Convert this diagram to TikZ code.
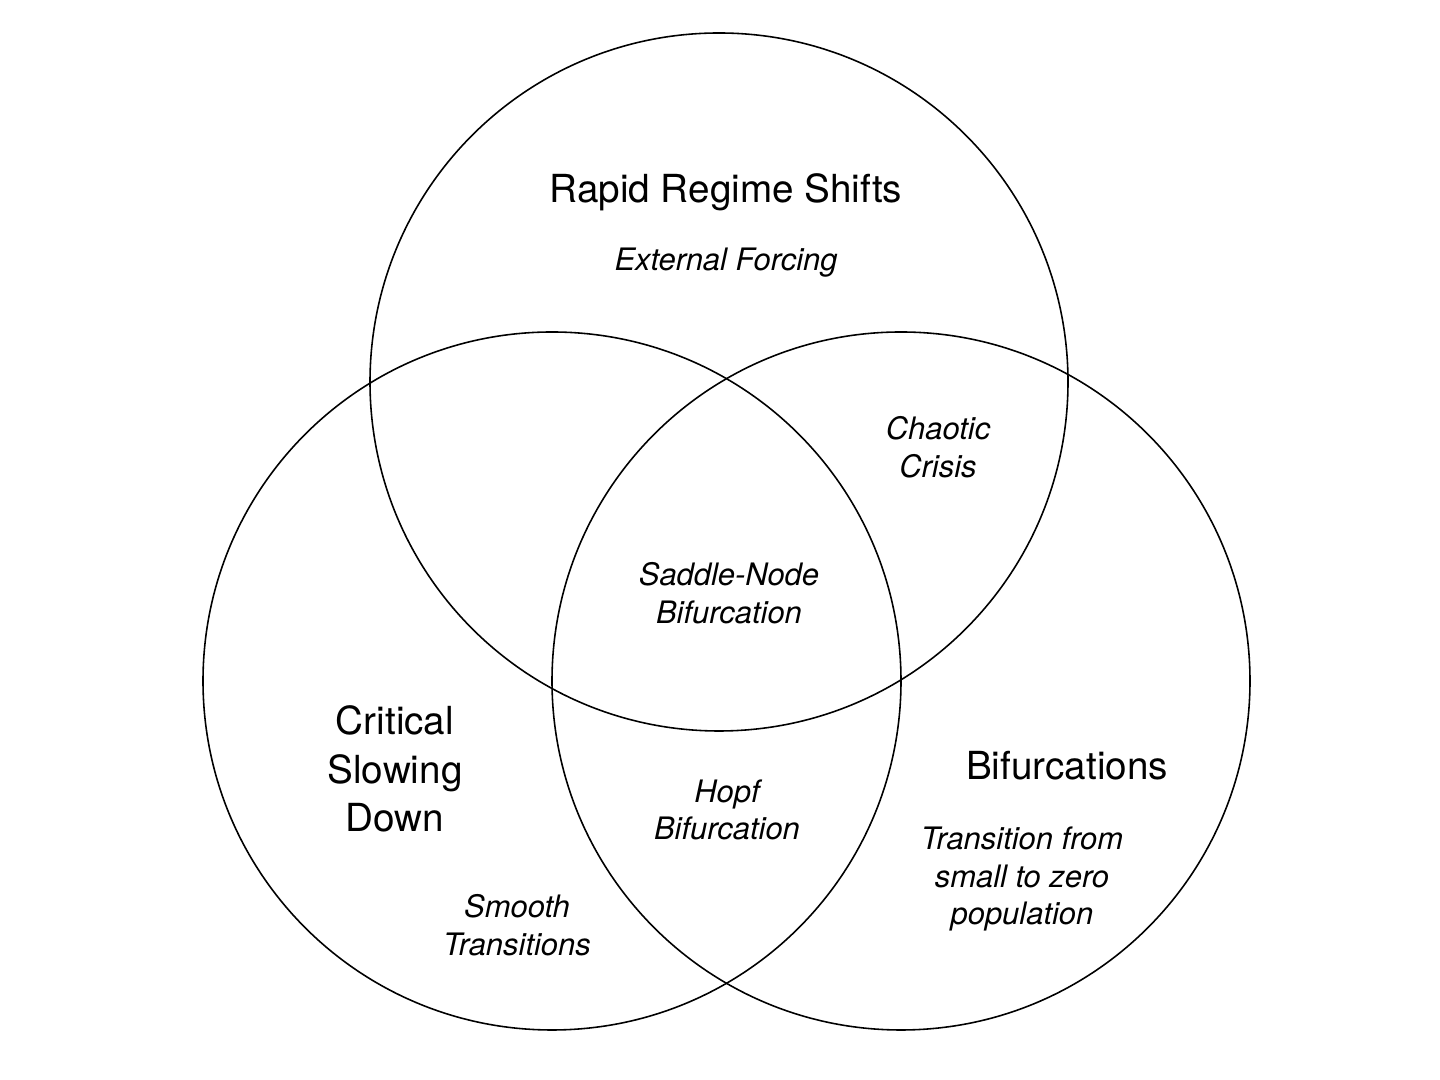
\documentclass[tikz,border=0pt]{standalone}
\usepackage{fontspec}
\setmainfont{TeX Gyre Heros}
\usetikzlibrary{positioning}

\begin{document}
\begin{tikzpicture}[
      set/.style={draw, line width=0.45pt},
      title/.style={align=center, inner sep=0pt, font=\fontsize{11}{13.7}\selectfont},
      note/.style={align=center, inner sep=0pt, font=\fontsize{8.8}{10.7}\selectfont\itshape}
    ]
      \useasboundingbox (0,0) rectangle (14.4,10.8);
      \draw[set] (7.19,6.98) circle (3.49);
      \draw[set] (5.52,3.99) circle (3.49);
      \draw[set] (9.01,3.99) circle (3.49);
      \node[title] (rapid) at (7.26,8.88) {Rapid Regime Shifts};
      \node[note, below=0.36 of rapid] (forcing) {External Forcing};
      \node[note] (chaos) at (9.38,6.33) {Chaotic\\Crisis};
      \node[note] (saddle) at (7.29,4.87) {Saddle-Node\\Bifurcation};
      \node[title] (slow) at (3.95,3.11) {Critical\\Slowing\\Down};
      \node[note] (hopf) at (7.27,2.70) {Hopf\\Bifurcation};
      \node[title] (bif) at (10.67,3.14) {Bifurcations};
      \node[note] (zero) at (10.22,2.01) {Transition from\\small to zero\\population};
      \node[note] (smooth) at (5.17,1.55) {Smooth\\Transitions};
    \end{tikzpicture}
\end{document}
